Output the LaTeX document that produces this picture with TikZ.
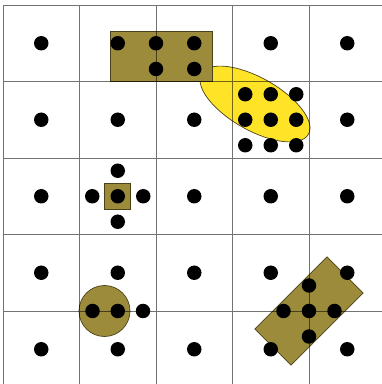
\documentclass[tikz,border=0pt]{standalone}
\definecolor{shapeolive}{HTML}{9B8B3B}
\definecolor{shapeyellow}{HTML}{FFE326}
\definecolor{shapeedge}{HTML}{4A4218}
\begin{document}
\begin{tikzpicture}[x=1pt,y=1pt,
  shapebox/.style={fill=shapeolive, draw=shapeedge, line width=0.7pt},
  lensshape/.style={fill=shapeyellow, draw=shapeedge, line width=0.7pt},
  gridline/.style={draw=black, draw opacity=0.55, line width=0.8pt},
  dot/.style={circle, fill=black, inner sep=0pt, minimum size=14.5pt}]
\useasboundingbox (0,0) rectangle (382,384);
\fill[white] (0,0) rectangle (382,384);
% shapes
\draw[lensshape, shift={(255,280)}, rotate=-29.5] (0,0) ellipse [x radius=61.4, y radius=26.3];
\draw[shapebox] (110,302.5) rectangle (212,353);
\draw[shapebox] (104.75,174.75) rectangle (130.75,200.75);
\draw[shapebox] (104.5,73) circle [radius=25.5];
\draw[shapebox, shift={(309,73)}, rotate=45] (-51,-25.5) rectangle (51,25.5);
% grid
\draw[gridline]
  \foreach \x in {3,79.5,156,232.5,309} {(\x,0) -- (\x,379)}
  \foreach \y in {379,302.5,226,149.5,73} {(3,\y) -- (382,\y)};
% regular dots
\foreach \x [count=\i] in {41.25,117.75,194.25,270.75,347.25}
  \foreach \y [count=\j] in {340.75,264.25,187.75,111.25,34.75}
    \node[dot] (g\i\j) at (\x,\y) {};
% extra dots
\foreach \x/\y [count=\k] in {
  156/340.75, 156/315, 194.25/315,
  245.25/289.75, 270.75/289.75, 296.25/289.75,
  245.25/264.25, 296.25/264.25,
  245.25/238.75, 270.75/238.75, 296.25/238.75,
  117.75/213.25, 117.75/162.25, 92.25/187.75, 143.25/187.75,
  92.5/73, 117.75/73, 143/73,
  309/98.5, 309/47.5, 283.5/73, 334.5/73, 309/73}
  \node[dot] (e\k) at (\x,\y) {};
\end{tikzpicture}
\end{document}
